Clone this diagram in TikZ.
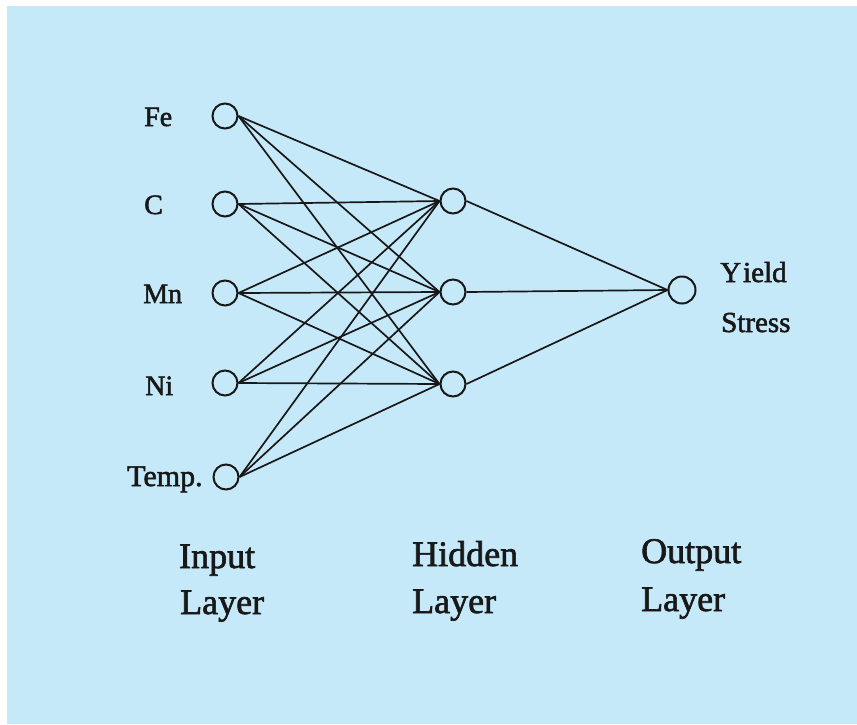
\documentclass[tikz,border=0pt]{standalone}
\usepackage{fontspec}
\setmainfont{Liberation Serif}[FakeBold=1.8]
\definecolor{panel}{RGB}{198,233,249}
\definecolor{ink}{RGB}{24,24,24}
\begin{document}
\begin{tikzpicture}[x=1pt,y=-1pt,
  neuron/.style={circle,draw=ink,line width=2pt,minimum size=25pt,inner sep=0pt},
  link/.style={draw=ink,line width=1.7pt},
  inlabel/.style={anchor=base west,inner sep=0pt,text=ink,font=\fontsize{28}{30}\selectfont},
  layertitle/.style={anchor=base west,inner sep=0pt,text=ink,font=\fontsize{36}{40}\selectfont}]
  \useasboundingbox (0,0) rectangle (857,724);
  \fill[white] (0,0) rectangle (857,724);
  \fill[panel] (7,6) rectangle (857,724);

  % input layer
  \node[neuron] (i1) at (225,116) {};
  \node[neuron] (i2) at (225,204) {};
  \node[neuron] (i3) at (225,293) {};
  \node[neuron] (i4) at (225,383) {};
  \node[neuron] (i5) at (226,477) {};
  % hidden layer
  \node[neuron] (h1) at (453,201) {};
  \node[neuron] (h2) at (453,292) {};
  \node[neuron] (h3) at (453,384) {};
  % output layer
  \node[neuron,minimum size=27pt] (o1) at (682,290) {};

  % connections
  \foreach \i in {1,...,5}{
    \foreach \h in {1,2,3}{
      \draw[link] (i\i.east) -- (h\h.west);
    }
  }
  \foreach \h in {1,2,3}{
    \draw[link] (h\h.east) -- (o1.west);
  }

  % input labels
  \node[inlabel] (lfe) at (144,126) {Fe};
  \node[inlabel] (lc) at (144,214) {C};
  \node[inlabel] (lmn) at (143,303) {Mn};
  \node[inlabel] (lni) at (145,395) {Ni};
  \node[inlabel,font=\fontsize{30}{30}\selectfont] (ltemp) at (127,486) {Temp.};

  % output label
  \node[inlabel,font=\fontsize{29}{30}\selectfont] (lyield) at (720,282) {Y\kern2pt ield};
  \node[inlabel,font=\fontsize{29}{30}\selectfont] (lstress) at (721,332) {Stress};

  % layer titles
  \node[layertitle] (tin1) at (179,568) {Input};
  \node[layertitle] (tin2) at (180,614) {Layer};
  \node[layertitle] (thid1) at (412,566) {Hidden};
  \node[layertitle] (thid2) at (412,613) {Layer};
  \node[layertitle] (tout1) at (641,563) {Output};
  \node[layertitle] (tout2) at (641,611) {Layer};
\end{tikzpicture}
\end{document}
